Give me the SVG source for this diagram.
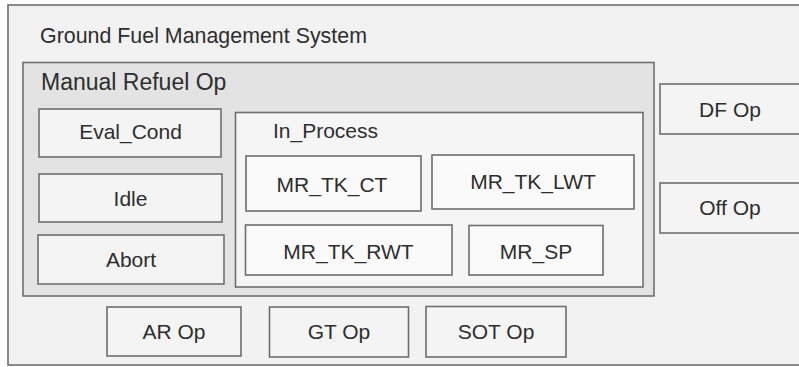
<svg xmlns="http://www.w3.org/2000/svg" width="799" height="367" viewBox="0 0 799 367">
  <style>
    text { font-family: "Liberation Sans", Arial, Helvetica, sans-serif; font-size: 21px; fill: #2e2e2e; }
    .c { text-anchor: middle; }
    .box { stroke: #6e6e6e; stroke-width: 1.6; }
    .outer { fill: #f2f2f2; }
    .group { fill: #e3e3e3; }
    .state { fill: #f4f4f4; }
    .region { fill: #f5f5f5; }
    .sub { fill: #fafafa; }
  </style>
  <rect width="799" height="367" fill="#ffffff"/>

  <!-- top-level system container -->
  <g id="ground-fuel-management-system">
    <rect class="box outer" x="8" y="5" width="800" height="360"/>
    <text x="40" y="43" style="font-size:21.4px">Ground Fuel Management System</text>
  </g>

  <!-- manual refuel composite state -->
  <g id="manual-refuel-op">
    <rect class="box group" x="23" y="62.5" width="631" height="233.5"/>
    <text x="41" y="90" style="font-size:23px">Manual Refuel Op</text>
  </g>

  <g id="eval-cond">
    <rect class="box state" x="39" y="109" width="182" height="48"/>
    <text class="c" x="130.5" y="139">Eval_Cond</text>
  </g>
  <g id="idle">
    <rect class="box state" x="39" y="174" width="183" height="48"/>
    <text class="c" x="130.5" y="206">Idle</text>
  </g>
  <g id="abort">
    <rect class="box state" x="38" y="235" width="186" height="49"/>
    <text class="c" x="131" y="267">Abort</text>
  </g>

  <!-- in-process region and its sub-states -->
  <g id="in-process">
    <rect class="box region" x="235.5" y="112.5" width="407.5" height="174.5"/>
    <text x="273" y="138">In_Process</text>
  </g>
  <g id="mr-tk-ct">
    <rect class="box sub" x="246" y="156" width="175" height="55"/>
    <text class="c" x="332" y="192">MR_TK_CT</text>
  </g>
  <g id="mr-tk-lwt">
    <rect class="box sub" x="432" y="155" width="202" height="54"/>
    <text class="c" x="533" y="189">MR_TK_LWT</text>
  </g>
  <g id="mr-tk-rwt">
    <rect class="box sub" x="245.5" y="225" width="206.5" height="50"/>
    <text class="c" x="348.5" y="259">MR_TK_RWT</text>
  </g>
  <g id="mr-sp">
    <rect class="box sub" x="469" y="225.5" width="134" height="49.5"/>
    <text class="c" x="536" y="259">MR_SP</text>
  </g>

  <!-- sibling operation modes -->
  <g id="df-op">
    <rect class="box state" x="660" y="84" width="140" height="50"/>
    <text class="c" x="730" y="117">DF Op</text>
  </g>
  <g id="off-op">
    <rect class="box state" x="660" y="183" width="140" height="50"/>
    <text class="c" x="730" y="215">Off Op</text>
  </g>
  <g id="ar-op">
    <rect class="box state" x="107" y="307" width="134" height="49"/>
    <text class="c" x="174" y="339">AR Op</text>
  </g>
  <g id="gt-op">
    <rect class="box state" x="269.5" y="307" width="139" height="50"/>
    <text class="c" x="339" y="339">GT Op</text>
  </g>
  <g id="sot-op">
    <rect class="box state" x="426" y="306.5" width="140" height="50.5"/>
    <text class="c" x="496" y="339">SOT Op</text>
  </g>

  <g id="connectors"/>
</svg>
